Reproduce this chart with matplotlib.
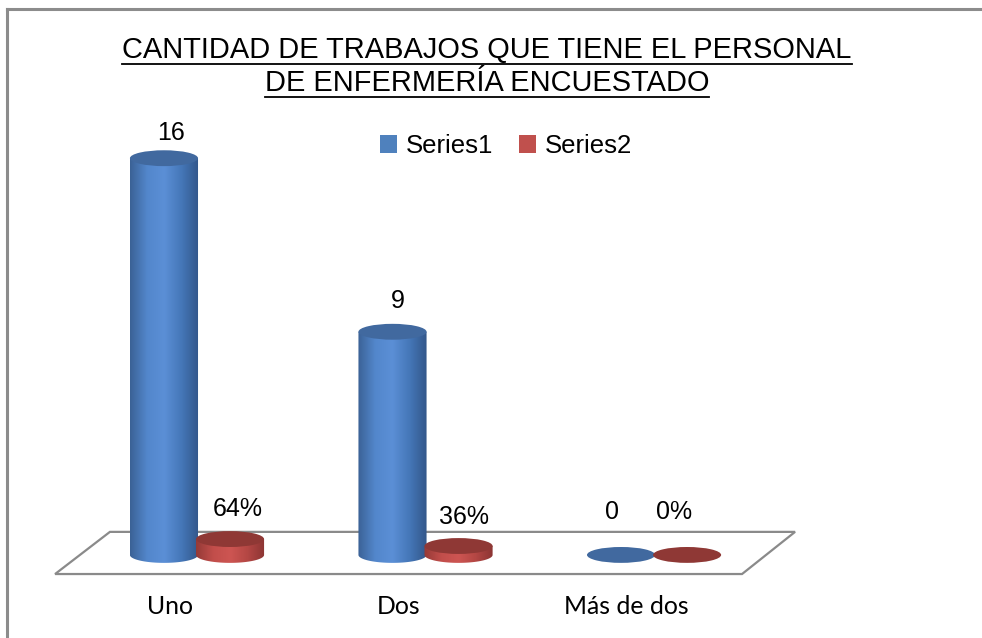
import numpy as np
import matplotlib
matplotlib.use('Agg')
import matplotlib.pyplot as plt
from matplotlib.patches import Ellipse, Polygon, Patch
from matplotlib.path import Path
from matplotlib.colors import LinearSegmentedColormap
from matplotlib.lines import Line2D
import matplotlib.transforms as mtransforms

categories = ['Uno', 'Dos', 'Más de dos']
series1 = [16, 9, 0]
series2 = [0.64, 0.36, 0]
labels1 = ['16', '9', '0']
labels2 = ['64%', '36%', '0%']
title_lines = ['CANTIDAD DE TRABAJOS QUE TIENE EL PERSONAL', 'DE ENFERMERÍA ENCUESTADO']

plt.rcParams['font.family'] = ['Liberation Sans', 'DejaVu Sans']

fig = plt.figure(figsize=(9.82, 6.38), dpi=100)
ax = fig.add_axes([0, 0, 1, 1])
ax.axis('off')

# outer frame (top and left only, like the screenshot)
fig.add_artist(Line2D([7 / 982, 1], [1 - 8.5 / 638] * 2, color='#8c8c8c', lw=2.2, transform=fig.transFigure))
fig.add_artist(Line2D([7 / 982] * 2, [0, 1 - 8.5 / 638], color='#8c8c8c', lw=2.2, transform=fig.transFigure))

# floor
floor = Polygon([(-0.381, 0.93), (2.617, 0.93), (2.385, -0.77), (-0.621, -0.77)],
                closed=True, facecolor='white', edgecolor='#8a8a8a', lw=1.6, zorder=1)
ax.add_patch(floor)

bw = 0.298
eh = 0.64
off = 0.1445

blue = dict(body=['#3b6296', '#5387cc', '#5b8fd6', '#4577b8', '#33578a'], top='#41699f')
red = dict(body=['#953a37', '#c24e4b', '#cd5552', '#b44744', '#8c3533'], top='#8f3835')


def cylinder(xc, h, style, z):
    x0, x1 = xc - bw / 2, xc + bw / 2
    if h > 0:
        t = np.linspace(0, -np.pi, 60)
        pts = [(x0, h), (x1, h)] + list(zip(xc + bw / 2 * np.cos(t), eh / 2 * np.sin(t))) + [(x0, h)]
        path = Path(pts, closed=True)
        cmap = LinearSegmentedColormap.from_list('c', style['body'])
        grad = np.linspace(0, 1, 200).reshape(1, -1)
        im = ax.imshow(grad, cmap=cmap, aspect='auto', extent=(x0, x1, -eh / 2, h),
                       origin='lower', zorder=z, interpolation='bilinear')
        im.set_clip_path(path, transform=ax.transData)
    ax.add_patch(Ellipse((xc, h), bw, eh, facecolor=style['top'], edgecolor='none', zorder=z + 0.5))


for i in range(len(categories)):
    cylinder(i - off, series1[i], blue, 3)
    cylinder(i + off, series2[i], red, 4)

ax.set_xlim(-0.862, 3.435)
ax.set_ylim(-3.35, 22.38)

# data labels
offs1 = [(7, 25), (5, 31), (-9, 43)]
offs2 = [(8, 30), (5, 29), (-13, 43)]
for i in range(len(categories)):
    ax.annotate(labels1[i], (i - off, series1[i]), xytext=offs1[i], textcoords='offset pixels',
                ha='center', va='center', fontsize=18, color='black')
    ax.annotate(labels2[i], (i + off, series2[i]), xytext=offs2[i], textcoords='offset pixels',
                ha='center', va='center', fontsize=18, color='black')

# category labels
trans = mtransforms.blended_transform_factory(ax.transData, fig.transFigure)
for i, c in enumerate(categories):
    ax.text(i - 0.12, 1 - 607 / 638, c, transform=trans, ha='center', va='center',
            fontsize=17.8, family=['Lato', 'DejaVu Sans'])

# legend
handles = [Patch(facecolor='#4f81bd', label='Series1'), Patch(facecolor='#c0504d', label='Series2')]
fig.legend(handles=handles, loc='center', bbox_to_anchor=(506 / 982, 1 - 146 / 638), ncol=2,
           frameon=False, fontsize=18.5, handlelength=0.65, handleheight=0.65,
           handletextpad=0.35, columnspacing=1.0)

# title with underline
renderer = fig.canvas.get_renderer()
for line, yp in zip(title_lines, [50, 83]):
    t = fig.text(487 / 982, 1 - yp / 638, line, ha='center', va='center', fontsize=20.9)
    bb = t.get_window_extent(renderer)
    uy = 1 - (yp + 14) / 638
    fig.add_artist(Line2D([bb.x0 / 982, bb.x1 / 982], [uy, uy], color='black', lw=1.3,
                          transform=fig.transFigure))

fig.savefig('out.png', dpi=100)
